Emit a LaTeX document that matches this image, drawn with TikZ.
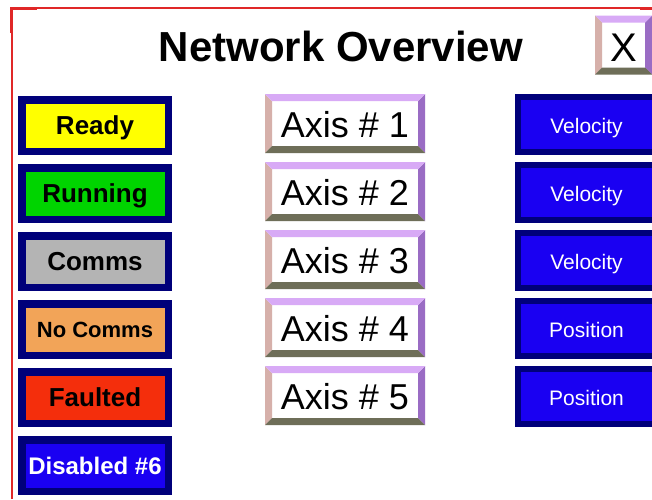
\documentclass[tikz,border=0pt]{standalone}
\usepackage{fontspec}
\setmainfont{Liberation Sans}
\usetikzlibrary{calc}

\definecolor{navy}{HTML}{00007A}
\definecolor{btnblue}{HTML}{1A00F2}
\definecolor{rdy}{HTML}{FFFF00}
\definecolor{run}{HTML}{00D400}
\definecolor{com}{HTML}{B4B4B4}
\definecolor{nocom}{HTML}{F2A458}
\definecolor{flt}{HTML}{F42E0C}
\definecolor{bvtop}{HTML}{D8AAF6}
\definecolor{bvleft}{HTML}{D6B0AA}
\definecolor{bvright}{HTML}{9A6CC4}
\definecolor{bvbot}{HTML}{6E6E58}
\definecolor{framered}{HTML}{E02828}

\begin{document}
\begin{tikzpicture}[x=1pt, y=-1pt,
  status/.style={draw=navy, line width=7.5pt, minimum width=146.5pt, minimum height=51.5pt,
    inner sep=0pt, text height=18pt, text depth=0pt, font=\bfseries\fontsize{26}{30}\selectfont},
  mode/.style={draw=navy, fill=btnblue, text=white, line width=6pt, minimum width=137pt,
    minimum height=55pt, inner sep=0pt, text height=17pt, text depth=0pt, font=\fontsize{21}{25}\selectfont},
  bevel/.style={fill=white, minimum width=160pt, minimum height=59pt, inner sep=0pt,
    text height=28pt, text depth=0pt, font=\fontsize{36}{40}\selectfont,
    path picture={
      \fill[bvleft] (path picture bounding box.south west) -- (path picture bounding box.north west)
        -- ++(7pt,-7pt) -- ($(path picture bounding box.south west)+(7pt,7pt)$) -- cycle;
      \fill[bvright] (path picture bounding box.south east) -- (path picture bounding box.north east)
        -- ++(-7pt,-7pt) -- ($(path picture bounding box.south east)+(-7pt,7pt)$) -- cycle;
      \fill[bvtop] (path picture bounding box.north west) -- (path picture bounding box.north east)
        -- ++(-7pt,-7pt) -- ($(path picture bounding box.north west)+(7pt,-7pt)$) -- cycle;
      \fill[bvbot] (path picture bounding box.south west) -- (path picture bounding box.south east)
        -- ++(-7pt,7pt) -- ($(path picture bounding box.south west)+(7pt,7pt)$) -- cycle;
    }}]
\useasboundingbox[fill=white] (0,0) rectangle (652,499);
\clip (0,0) rectangle (652,499);

% window frame
\draw[framered, line width=1.5pt] (12,499) -- (12,8) -- (652,8);
\draw[framered, line width=3pt] (11.5,33) -- (11.5,8.5) -- (37,8.5);
\draw[framered, line width=3pt] (640,8.5) -- (652,8.5);

\node (title) at (341,46) {\bfseries\fontsize{42}{46}\selectfont Network Overview};
\node[bevel, minimum width=57pt, text height=33pt, font=\fontsize{40}{44}\selectfont] (close) at (623.5,45) {X};

% status legend
\node[status, fill=rdy] (ready) at (95,125.5) {Ready};
\node[status, fill=run] (running) at (95,193.5) {Running};
\node[status, fill=com] (comms) at (95,261.5) {Comms};
\node[status, fill=nocom, font=\bfseries\fontsize{22}{26}\selectfont, text height=16pt] (nocomms) at (95,329.5) {No Comms};
\node[status, fill=flt] (faulted) at (95,397.5) {Faulted};
\node[status, fill=btnblue, text=white, font=\bfseries\fontsize{24}{28}\selectfont, text height=17pt] (disabled) at (95,465.5) {Disabled \#6};

% axis buttons
\node[bevel] (axis1) at (345,123.5) {Axis \# 1};
\node[bevel] (axis2) at (345,191.5) {Axis \# 2};
\node[bevel] (axis3) at (345,259.5) {Axis \# 3};
\node[bevel] (axis4) at (345,327.5) {Axis \# 4};
\node[bevel] (axis5) at (345,395.5) {Axis \# 5};

% control modes
\node[mode] (mode1) at (586.5,124.5) {Velocity};
\node[mode] (mode2) at (586.5,192.5) {Velocity};
\node[mode] (mode3) at (586.5,260.5) {Velocity};
\node[mode] (mode4) at (586.5,328.5) {Position};
\node[mode] (mode5) at (586.5,396.5) {Position};

\end{tikzpicture}
\end{document}
